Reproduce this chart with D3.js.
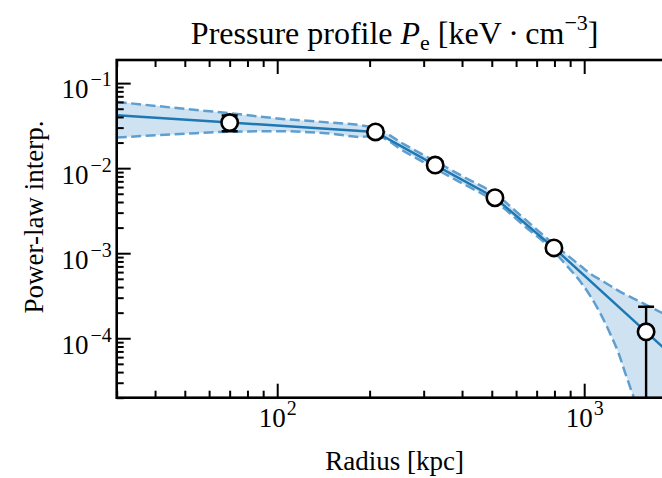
<!DOCTYPE html>
<html><head><meta charset="utf-8">
<script src="https://cdn.jsdelivr.net/npm/d3@7"></script>
<style>
body{margin:0;background:#fff;}
svg{display:block;}
text{font-family:"Liberation Serif","Times New Roman",serif;fill:#000;}
</style>
</head><body>
<svg id="c" width="662" height="478"></svg>
<script>
// ---- data ----
const radius   = [70, 209, 327, 512, 797, 1591];
const pressure = [0.0344, 0.02666, 0.01088, 0.00449, 0.001155, 0.000119];
const errLower = [0.0072, 0.0030, 0.0012, 0.0005, 0.00013, 0.000119];
const errUpper = [0.0072, 0.0030, 0.0012, 0.0005, 0.00013, 0.000116];

const lineRadius   = [30, 70, 209, 327, 512, 797, 1591, 2000];
const linePressure = [0.042, 0.0344, 0.02666, 0.01088, 0.00449, 0.001155, 0.000119, 0.000056];

const bandRadius = [30, 50, 70, 100, 149, 187, 209, 260, 327, 408, 512, 640, 797, 880, 974, 1050, 1132, 1220, 1295, 1365, 1418, 1460, 1528, 1600, 1802, 2000];
const bandUpper  = [0.0602, 0.0498, 0.0443, 0.0384, 0.0344, 0.0320, 0.0296, 0.01893, 0.01203, 0.00779, 0.00498, 0.00252, 0.00127,
                    0.00095, 0.000708, 0.00057, 0.000484, 0.000412, 0.000361, 0.000326, 0.000304, 0.000288, 0.000266, 0.000244, 0.000197, 0.000160];
const bandLower  = [0.0229, 0.0254, 0.0268, 0.0272, 0.0255, 0.0233, 0.0240, 0.01565, 0.00984, 0.0064, 0.00406, 0.002076, 0.00105,
                    0.000705, 0.00046, 0.000309, 0.000192, 0.0001096, 0.0000662, 0.0000377, 0.0000252, 0.0000173, 1e-7, 1e-7, 1e-7, 1e-7];

const xTicksMajor = [100, 1000];
const xTickExp    = ["2", "3"];
const yTicksMajor = [1e-1, 1e-2, 1e-3, 1e-4];
const yTickExp    = ["\u22121", "\u22122", "\u22123", "\u22124"];

const titleText = "Pressure profile ";
const xLabel = "Radius [kpc]";
const yLabel = "Power-law interp.";

// ---- layout ----
const L = 116.7, R = 676.6, T = 60, B = 397.7;
const svg = d3.select("#c");
const x = d3.scaleLog().domain([30, 2000]).range([L, R]);
const y = d3.scaleLog().domain([2e-5, 0.187]).range([B, T]);

const C0 = "#1f77b4";
const dashCol = "#5f9fcf";
const fillCol = "#cfe2f1";

svg.append("defs").append("clipPath").attr("id","clip")
  .append("rect").attr("x",L).attr("y",T).attr("width",R-L).attr("height",B-T);

const g = svg.append("g").attr("clip-path","url(#clip)");

const band = bandRadius.map((r,i)=>({r, u:bandUpper[i], l:bandLower[i]}));
g.append("path").datum(band)
  .attr("d", d3.area().x(d=>x(d.r)).y0(d=>y(d.l)).y1(d=>y(d.u)).curve(d3.curveMonotoneX))
  .attr("fill", fillCol).attr("stroke","none");

const dline = key => d3.line().x(d=>x(d.r)).y(d=>y(d[key])).curve(d3.curveMonotoneX);
["u","l"].forEach(k=>{
  g.append("path").datum(band).attr("d", dline(k))
    .attr("fill","none").attr("stroke",dashCol).attr("stroke-width",2.5)
    .attr("stroke-dasharray","10,4.5");
});

const lineData = lineRadius.map((r,i)=>({r, p:linePressure[i]}));
g.append("path").datum(lineData)
  .attr("d", d3.line().x(d=>x(d.r)).y(d=>y(d.p)))
  .attr("fill","none").attr("stroke",C0).attr("stroke-width",2.5);

// error bars
const pts = radius.map((r,i)=>({r, p:pressure[i], lo:pressure[i]-errLower[i], hi:pressure[i]+errUpper[i]}));
const yc = v => v > 0 ? y(v) : B + 50;
const eb = g.append("g").attr("stroke","#000").attr("stroke-width",2.4);
pts.forEach(d=>{
  const cx = x(d.r);
  eb.append("line").attr("x1",cx).attr("x2",cx).attr("y1",yc(d.lo)).attr("y2",yc(d.hi));
  eb.append("line").attr("x1",cx-8).attr("x2",cx+8).attr("y1",yc(d.hi)).attr("y2",yc(d.hi));
  eb.append("line").attr("x1",cx-8).attr("x2",cx+8).attr("y1",yc(d.lo)).attr("y2",yc(d.lo));
});
g.selectAll("circle.pt").data(pts).enter().append("circle")
  .attr("cx",d=>x(d.r)).attr("cy",d=>y(d.p)).attr("r",8.2)
  .attr("fill","#fff").attr("stroke","#000").attr("stroke-width",2.6);

// ---- axes ----
function minors(lo, hi){
  const out=[];
  for(let e=Math.floor(Math.log10(lo)); e<=Math.ceil(Math.log10(hi)); e++){
    for(let k=2;k<=9;k++){const v=k*Math.pow(10,e); if(v>=lo && v<=hi) out.push(v);}
  }
  return out;
}
const xMin = minors(30,2000), yMin = minors(2e-5,0.187);
const MAJ = 14, MIN = 7;
function styleAxis(sel){
  sel.select(".domain").remove();
  sel.selectAll(".tick line").attr("stroke","#000").attr("stroke-width",2);
}
// bottom
const axB = svg.append("g").attr("transform",`translate(0,${B})`)
  .call(d3.axisBottom(x).tickValues(xTicksMajor).tickSize(-MAJ).tickPadding(10).tickFormat(()=>"")).call(styleAxis);
axB.selectAll(".tick text").each(function(d,i){
  const t=d3.select(this).text("").attr("font-size",27).attr("dy","0.71em");
  t.append("tspan").text("10");
  t.append("tspan").attr("font-size",20).attr("dx",1).attr("dy",-12).text(xTickExp[i]);
});
svg.append("g").attr("transform",`translate(0,${B})`)
  .call(d3.axisBottom(x).tickValues(xMin).tickSize(-MIN).tickFormat(()=>"")).call(styleAxis)
  .selectAll("text").remove();
// top
svg.append("g").attr("transform",`translate(0,${T})`)
  .call(d3.axisTop(x).tickValues(xTicksMajor).tickSize(-MAJ).tickFormat(()=>"")).call(styleAxis).selectAll("text").remove();
svg.append("g").attr("transform",`translate(0,${T})`)
  .call(d3.axisTop(x).tickValues(xMin).tickSize(-MIN).tickFormat(()=>"")).call(styleAxis).selectAll("text").remove();
// left
const axL = svg.append("g").attr("transform",`translate(${L},0)`)
  .call(d3.axisLeft(y).tickValues(yTicksMajor).tickSize(-MAJ).tickPadding(5).tickFormat(()=>"")).call(styleAxis);
axL.selectAll(".tick text").each(function(d,i){
  const t=d3.select(this).text("").attr("font-size",27).attr("dy","0.55em");
  t.append("tspan").text("10");
  t.append("tspan").attr("font-size",20).attr("dx",2).attr("dy",-12).text(yTickExp[i]);
});
svg.append("g").attr("transform",`translate(${L},0)`)
  .call(d3.axisLeft(y).tickValues(yMin).tickSize(-MIN).tickFormat(()=>"")).call(styleAxis).selectAll("text").remove();
// right
svg.append("g").attr("transform",`translate(${R},0)`)
  .call(d3.axisRight(y).tickValues(yTicksMajor).tickSize(-MAJ).tickFormat(()=>"")).call(styleAxis).selectAll("text").remove();
svg.append("g").attr("transform",`translate(${R},0)`)
  .call(d3.axisRight(y).tickValues(yMin).tickSize(-MIN).tickFormat(()=>"")).call(styleAxis).selectAll("text").remove();

// frame
svg.append("rect").attr("x",L).attr("y",T).attr("width",R-L).attr("height",B-T)
  .attr("fill","none").attr("stroke","#000").attr("stroke-width",2.6);

// ---- labels ----
const cx = (L+R)/2 - 2;
const title = svg.append("text").attr("x",cx).attr("y",44).attr("text-anchor","middle").attr("font-size",32);
title.append("tspan").text(titleText);
title.append("tspan").attr("font-style","italic").text("P");
title.append("tspan").attr("font-size",22).attr("dy",6).text("e");
title.append("tspan").attr("dy",-6).text(" [keV\u2009\u00b7\u2009cm");
title.append("tspan").attr("font-size",22).attr("dy",-14).text("\u22123");
title.append("tspan").attr("dy",14).text("]");

svg.append("text").attr("x",cx).attr("y",470).attr("text-anchor","middle").attr("font-size",27).text(xLabel);
svg.append("text").attr("transform",`translate(43,217) rotate(-90)`).attr("text-anchor","middle").attr("font-size",27).text(yLabel);
</script>
</body></html>
